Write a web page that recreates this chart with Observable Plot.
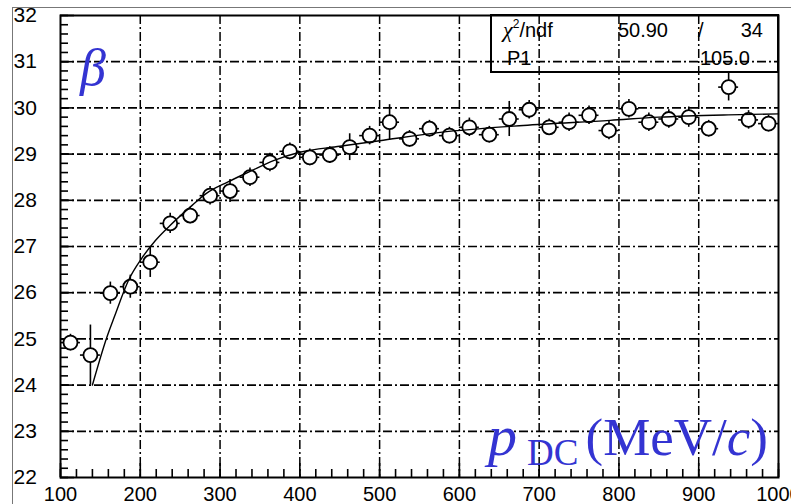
<!DOCTYPE html>
<html><head><meta charset="utf-8">
<script src="https://cdn.jsdelivr.net/npm/d3@7"></script>
<script src="https://cdn.jsdelivr.net/npm/@observablehq/plot@0.6"></script>
<style>
html,body{margin:0;padding:0;background:#fff;overflow:hidden;}
#wrap{position:relative;width:791px;height:504px;overflow:hidden;background:#fff;}
#wrap svg{position:absolute;left:0;top:0;}
#outer{position:absolute;left:12px;top:7px;width:800px;height:520px;border-top:1px solid #777;border-left:1px solid #777;pointer-events:none;z-index:2;}
</style></head><body><div id="wrap"><div id="outer"></div></div>
<script>
// measured points (MeV/c, beta)
const momentum = [112.5,137.5,162.5,187.5,212.5,237.5,262.5,287.5,312.5,337.5,362.5,387.5,412.5,437.5,462.5,487.5,512.5,537.5,562.5,587.5,612.5,637.5,662.5,687.5,712.5,737.5,762.5,787.5,812.5,837.5,862.5,887.5,912.5,937.5,962.5,987.5];
const beta = [24.92,24.65,25.99,26.13,26.66,27.50,27.67,28.10,28.20,28.50,28.82,29.06,28.93,28.98,29.15,29.40,29.69,29.33,29.55,29.40,29.58,29.42,29.76,29.96,29.58,29.69,29.84,29.51,29.98,29.69,29.76,29.80,29.55,30.45,29.74,29.66];
const betaErr = [0.18,0.65,0.24,0.25,0.33,0.22,0.18,0.20,0.25,0.20,0.20,0.18,0.18,0.18,0.29,0.20,0.38,0.18,0.18,0.18,0.20,0.18,0.38,0.20,0.18,0.20,0.20,0.20,0.20,0.20,0.20,0.22,0.18,0.30,0.20,0.18];
const momentumErr = [12.5,12.5,12.5,12.5,12.5,12.5,12.5,12.5,12.5,12.5,12.5,12.5,12.5,12.5,12.5,12.5,12.5,12.5,12.5,12.5,12.5,12.5,12.5,12.5,12.5,12.5,12.5,12.5,12.5,12.5,12.5,12.5,12.5,12.5,12.5,12.5];
// fit curve
const fitMomentum = [140,158,168,185,202,219,237,265,282,310,337,367,400,450,500,576,680,789,850,937,1000];
const fitBeta = [24.0,25.03,25.5,26.26,26.75,27.13,27.45,27.89,28.14,28.4,28.62,28.86,29.04,29.17,29.29,29.47,29.62,29.73,29.8,29.85,29.87];
// axes
const xTicks = [100,200,300,400,500,600,700,800,900,1000];
const yTicks = [22,23,24,25,26,27,28,29,30,31,32];
const xGrid = [200,300,400,500,600,700,800,900];
const yGrid = [23,24,25,26,27,28,29,30,31];
const xMinor = d3.range(100, 1001, 20);
const yMinor = d3.range(22, 32.01, 0.2).map(v => +v.toFixed(1));
// stats box text
const statsRow1 = ["50.90", "/", "34"];
const statsRow2 = ["P1", "105.0"];

const W = 791, H = 504, ML = 60, MR = 13, MT = 15, MB = 27;
const xDom = [100, 1000], yDom = [22, 32];
const perPxX = (xDom[1] - xDom[0]) / (W - ML - MR);
const perPxY = (yDom[1] - yDom[0]) / (H - MT - MB);

const data = momentum.map((m, i) => ({m, b: beta[i], e: betaErr[i], me: momentumErr[i]}));
const fit = fitMomentum.map((m, i) => ({m, b: fitBeta[i]}));
const dash = "9,3,2,3";
const BLUE = "#3434d2";

const chart = Plot.plot({
  width: W, height: H,
  marginLeft: ML, marginRight: MR, marginTop: MT, marginBottom: MB,
  style: {fontFamily: "'Liberation Sans', Arial, sans-serif", fontSize: "21px", color: "#000", background: "transparent"},
  x: {domain: xDom},
  y: {domain: yDom},
  marks: [
    Plot.gridX(xGrid, {stroke: "#000", strokeOpacity: 1, strokeWidth: 1.5, strokeDasharray: dash}),
    Plot.gridY(yGrid, {stroke: "#000", strokeOpacity: 1, strokeWidth: 1.7, strokeDasharray: dash}),
    // inward ticks
    Plot.ruleX(xMinor, {x: d => d, y1: yDom[0], y2: yDom[0] + 8 * perPxY, stroke: "#000", strokeWidth: 1.6}),
    Plot.ruleX(xTicks, {x: d => d, y1: yDom[0], y2: yDom[0] + 14 * perPxY, stroke: "#000", strokeWidth: 1.6}),
    Plot.ruleY(yMinor, {y: d => d, x1: xDom[0], x2: xDom[0] + 8 * perPxX, stroke: "#000", strokeWidth: 1.6}),
    Plot.ruleY(yTicks, {y: d => d, x1: xDom[0], x2: xDom[0] + 14 * perPxX, stroke: "#000", strokeWidth: 1.6}),
    Plot.axisX(xTicks, {tickSize: 0, tickPadding: 9, fontSize: 20, tickFormat: d => String(d), label: null}),
    Plot.axisY(yTicks, {tickSize: 0, tickPadding: 0, textAnchor: "start", dx: -47, tickFormat: d => String(d), label: null}),
    Plot.frame({stroke: "#000", strokeWidth: 2}),
    Plot.ruleX(data, {x: "m", y1: d => d.b - d.e, y2: d => d.b + d.e, stroke: "#000", strokeWidth: 1.6}),
    Plot.ruleY(data, {y: "b", x1: d => d.m - d.me, x2: d => d.m + d.me, stroke: "#000", strokeWidth: 1.6}),
    Plot.dot(data, {x: "m", y: "b", r: 7, stroke: "#000", fill: "#fff", strokeWidth: 1.8}),
    Plot.line(fit, {x: "m", y: "b", stroke: "#000", strokeWidth: 1.4, curve: "monotone-x"})
  ]
});
document.getElementById("wrap").insertBefore(chart, document.getElementById("outer"));

// annotations
const svg = d3.select(chart);
const g = svg.append("g").attr("text-anchor", "start");
g.append("text").attr("x", 80).attr("y", 85).attr("text-anchor", "start")
  .attr("font-family", "'Liberation Serif', 'DejaVu Serif', serif").attr("font-style", "italic")
  .attr("font-size", 52).attr("fill", BLUE).text("β");
const lab = g.append("g").attr("font-family", "'Liberation Serif', 'DejaVu Serif', serif").attr("fill", BLUE);
lab.append("text").attr("x", 488).attr("y", 455).attr("text-anchor", "start").attr("font-size", 58).attr("font-style", "italic").text("p");
lab.append("text").attr("x", 527).attr("y", 465).attr("text-anchor", "start").attr("font-size", 37).text("DC");
const unit = lab.append("text").attr("x", 768).attr("y", 455).attr("font-size", 53).attr("text-anchor", "end");
unit.append("tspan").text("(MeV/");
unit.append("tspan").attr("font-style", "italic").text("c");
unit.append("tspan").text(")");

// stats box
const sb = g.append("g").attr("font-family", "'Liberation Sans', Arial, sans-serif").attr("font-size", 20).attr("fill", "#000");
sb.append("rect").attr("x", 491).attr("y", 15).attr("width", 287).attr("height", 57)
  .attr("fill", "none").attr("stroke", "#000").attr("stroke-width", 2);
const chi = sb.append("text").attr("x", 503).attr("y", 37).attr("text-anchor", "start");
chi.append("tspan").attr("font-family", "'Liberation Serif', serif").attr("font-style", "italic").attr("font-size", 22).text("χ");
chi.append("tspan").attr("font-size", 12).attr("dy", -9).text("2");
chi.append("tspan").attr("dy", 9).text("/ndf");
sb.append("text").attr("x", 668).attr("y", 37).attr("text-anchor", "end").text(statsRow1[0]);
sb.append("text").attr("x", 698).attr("y", 37).attr("text-anchor", "start").text(statsRow1[1]);
sb.append("text").attr("x", 763).attr("y", 37).attr("text-anchor", "end").text(statsRow1[2]);
sb.append("text").attr("x", 507).attr("y", 65).attr("text-anchor", "start").text(statsRow2[0]);
sb.append("text").attr("x", 750).attr("y", 65).attr("text-anchor", "end").text(statsRow2[1]);
</script></body></html>
